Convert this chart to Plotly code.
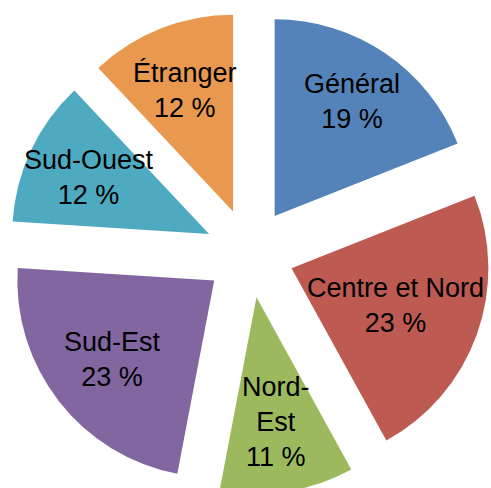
import math
import plotly.graph_objects as go

labels = ["Général", "Centre et Nord", "Nord-Est", "Sud-Est", "Sud-Ouest", "Étranger"]
display_labels = ["Général", "Centre et Nord", "Nord-<br>Est", "Sud-Est", "Sud-Ouest", "Étranger"]
values = [19, 23, 11, 23, 12, 12]
colors = ["#5483B9", "#BD5A52", "#9CBA5D", "#8166A0", "#4DAAC1", "#E9994F"]

# label distance from pie centre, as a fraction of the pie radius (style only)
label_radius = [0.93, 0.79, 0.87, 0.88, 0.90, 0.89]

W, H = 491, 506
M = dict(l=8, r=0, t=0, b=0)
PULL = 0.227

fig = go.Figure(go.Pie(
    labels=labels,
    values=values,
    textinfo="none",
    sort=False,
    direction="clockwise",
    rotation=0,
    pull=[PULL] * len(values),
    marker=dict(colors=colors, line=dict(width=0)),
    hoverinfo="label+percent",
))

pw = W - M["l"] - M["r"]
ph = H - M["t"] - M["b"]
R = min(pw, ph) / 2 / (1 + PULL)
total = sum(values)
cum = 0
for lab, v, lr in zip(display_labels, values, label_radius):
    mid = (cum + v / 2) / total * 2 * math.pi
    cum += v
    r = lr * R
    x = 0.5 + r * math.sin(mid) / pw
    y = 0.5 + r * math.cos(mid) / ph
    fig.add_annotation(
        x=x, y=y, xref="paper", yref="paper",
        text=f"{lab}<br>{v} %", showarrow=False,
        font=dict(family="Liberation Sans, Arial", size=27, color="black"),
        xanchor="center", yanchor="middle", align="center",
    )

fig.update_layout(
    width=W, height=H,
    margin=M,
    showlegend=False,
    paper_bgcolor="white",
    plot_bgcolor="white",
)

fig.write_html(
    "out.html",
    config={"displayModeBar": False},
    post_script="document.body.style.margin='0';document.documentElement.style.overflow='hidden';",
)
